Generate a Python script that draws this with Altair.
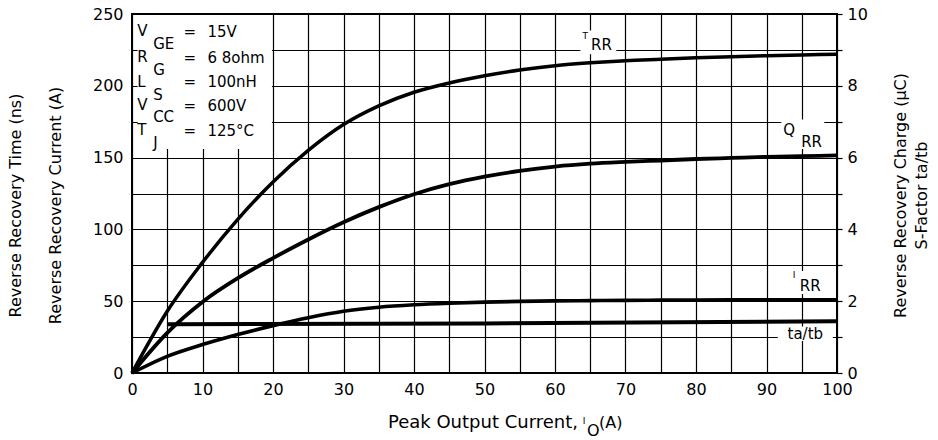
import altair as alt
import pandas as pd

# ---------------- data ----------------
current = [0, 5, 10, 15, 20, 25, 30, 35, 40, 45, 50, 55, 60, 65, 70, 75, 80, 85, 90, 95, 100]
t_rr = [0, 43, 77, 107, 133, 155, 173, 186, 195.5, 202, 207, 211, 214, 216, 217.5, 218.5, 219.5, 220.3, 221, 221.5, 222]
i_rr = [0, 11.6, 19.8, 26.8, 33, 38.5, 43, 45.8, 47.5, 48.6, 49.4, 49.9, 50.2, 50.4, 50.6, 50.7, 50.8, 50.9, 51, 51, 51]
q_rr = [0, 1.12, 1.98, 2.64, 3.2, 3.72, 4.2, 4.62, 4.98, 5.26, 5.47, 5.63, 5.75, 5.83, 5.88, 5.92, 5.96, 5.99, 6.02, 6.04, 6.06]
tatb_current = [5, 50, 100]
tatb = [1.36, 1.38, 1.44]

x_ticks = list(range(0, 101, 5))
left_ticks = list(range(0, 251, 25))
right_ticks = list(range(0, 11))

cond_sym = ["V", "R", "L", "V", "T"]
cond_sub = ["GE", "G", "S", "CC", "J"]
cond_val = ["15V", "6 8ohm", "100nH", "600V", "125°C"]

# ---------------- annotation placement (data units) ----------------
cond_sym_y = [238.2, 219.8, 202.4, 186.7, 169.3]
cond_sub_y = [229.2, 211.0, 193.7, 178.0, 160.3]
cond_val_y = [237.5, 219.4, 202.7, 186.0, 168.6]
cond_x = {"sym": 0.75, "sub": 3.0, "eq": 7.3, "val": 10.7}

boxes = pd.DataFrame({
    "x": [0.8, 63.6, 92.1, 93.5, 91.6],
    "x2": [19.85, 68.7, 98.2, 98.4, 99.4],
    "y": [156, 222, 156, 55, 22.3],
    "y2": [249.3, 238.5, 176.5, 71, 32.3],
})

curve_labels_big = pd.DataFrame({
    "x": [66.6, 93.2, 96.4, 96.2, 95.5],
    "y": [228.5, 169.3, 161.0, 60.8, 27.3],
    "t": ["RR", "Q", "RR", "RR", "ta/tb"],
})
curve_labels_small = pd.DataFrame({
    "x": [64.3, 93.9],
    "y": [234.7, 68.4],
    "t": ["T", "I"],
})

FONT = "DejaVu Sans"

# ---------------- tables ----------------
left_curves = pd.DataFrame({
    "x": current * 2,
    "y": t_rr + i_rr,
    "series": ["T_RR"] * len(current) + ["I_RR"] * len(current),
})
right_curves = pd.DataFrame({
    "x": current + tatb_current,
    "y": q_rr + tatb,
    "series": ["Q_RR"] * len(current) + ["ta/tb"] * len(tatb_current),
})

cond_rows = []
for s, sb, v, ys, yb, yv in zip(cond_sym, cond_sub, cond_val, cond_sym_y, cond_sub_y, cond_val_y):
    cond_rows.append({"x": cond_x["sym"], "y": ys, "t": s})
    cond_rows.append({"x": cond_x["sub"], "y": yb, "t": sb})
    cond_rows.append({"x": cond_x["eq"], "y": yv, "t": "="})
    cond_rows.append({"x": cond_x["val"], "y": yv, "t": v})
cond_df = pd.DataFrame(cond_rows)

# ---------------- encodings ----------------
X = alt.X(
    "x:Q",
    scale=alt.Scale(domain=[0, 100], nice=False),
    axis=alt.Axis(
        values=x_ticks,
        labelExpr="datum.value % 10 == 0 ? datum.label : ''",
        grid=True, gridColor="black", gridWidth=1.2, gridOpacity=1,
        ticks=False, domain=False, labelFontSize=16, labelPadding=8,
        labelFlush=False, labelOverlap=False, title=None,
    ),
)

YL = alt.Y(
    "y:Q",
    scale=alt.Scale(domain=[0, 250], nice=False),
    axis=alt.Axis(
        values=left_ticks,
        labelExpr="datum.value % 50 == 0 ? datum.label : ''",
        grid=True, gridColor="black", gridWidth=1.2, gridOpacity=1,
        ticks=False, domain=False, labelFontSize=16, labelPadding=9,
        labelFlush=False, labelOverlap=False,
        title=["Reverse Recovery Time (ns)", "Reverse Recovery Current (A)"],
        titleFontSize=16, titleFontWeight="normal", titleLineHeight=40,
        titleAngle=270, titleBaseline="bottom", titleAlign="center",
        titleX=-109, titleY=191,
    ),
)

YR = alt.Y(
    "y:Q",
    scale=alt.Scale(domain=[0, 10], nice=False),
    axis=alt.Axis(
        orient="right",
        values=right_ticks,
        labelExpr="datum.value % 2 == 0 ? datum.label : ''",
        grid=False, ticks=True, tickSize=5, tickColor="black", tickWidth=1.2,
        domain=False, labelFontSize=16, labelPadding=5,
        labelFlush=False, labelOverlap=False,
        title=["Reverse Recovery Charge (μC)", "S-Factor ta/tb"],
        titleFontSize=16, titleFontWeight="normal", titleLineHeight=21,
        titleAngle=270, titleBaseline="top", titleAlign="center",
        titleX=55, titleY=181,
    ),
)

# ---------------- left-scale layer ----------------
box_layer = alt.Chart(boxes).mark_rect(color="white", opacity=1).encode(
    x=X, x2="x2:Q", y=YL, y2="y2:Q"
)

left_lines = alt.Chart(left_curves).mark_line(color="black", interpolate="monotone").encode(
    x=X, y=YL, detail="series:N",
    strokeWidth=alt.StrokeWidth("series:N", scale=alt.Scale(domain=["T_RR", "I_RR"], range=[3.5, 4.0]), legend=None),
)

cond_text = alt.Chart(cond_df).mark_text(
    align="left", baseline="middle", font=FONT, fontSize=15, color="black"
).encode(x=X, y=YL, text="t:N")

lab_big = alt.Chart(curve_labels_big).mark_text(
    align="center", baseline="middle", font=FONT, fontSize=15, color="black"
).encode(x=X, y=YL, text="t:N")

lab_small = alt.Chart(curve_labels_small).mark_text(
    align="center", baseline="middle", font=FONT, fontSize=9, color="black"
).encode(x=X, y=YL, text="t:N")

left_layer = alt.layer(box_layer, left_lines, cond_text, lab_big, lab_small)

# ---------------- right-scale layer ----------------
right_lines = alt.Chart(right_curves).mark_line(color="black", interpolate="monotone").encode(
    x=X, y=YR, detail="series:N",
    strokeWidth=alt.StrokeWidth("series:N", scale=alt.Scale(domain=["Q_RR", "ta/tb"], range=[3.5, 3.8]), legend=None),
)
right_layer = alt.layer(right_lines)

# ---------------- x-axis title with subscript ----------------
xt_main = alt.Chart(pd.DataFrame({"t": ["Peak Output Current,"]})).mark_text(
    align="right", baseline="middle", font=FONT, fontSize=18, color="black"
).encode(x=alt.value(446), y=alt.value(408.5), text="t:N")
xt_i = alt.Chart(pd.DataFrame({"t": ["I"]})).mark_text(
    align="center", baseline="middle", font=FONT, fontSize=9, color="black"
).encode(x=alt.value(452), y=alt.value(406.5), text="t:N")
xt_o = alt.Chart(pd.DataFrame({"t": ["O"]})).mark_text(
    align="left", baseline="middle", font=FONT, fontSize=16, color="black"
).encode(x=alt.value(455), y=alt.value(417), text="t:N")
xt_a = alt.Chart(pd.DataFrame({"t": ["(A)"]})).mark_text(
    align="left", baseline="middle", font=FONT, fontSize=16, color="black"
).encode(x=alt.value(467), y=alt.value(408.5), text="t:N")

chart = (
    alt.layer(left_layer, right_layer, xt_main, xt_i, xt_o, xt_a)
    .resolve_scale(y="independent")
    .properties(
        width=705, height=359,
        padding={"left": 132, "top": 14, "right": 101, "bottom": 67},
        autosize=alt.AutoSizeParams(type="none"),
        background="white",
    )
    .configure_view(stroke="black", strokeWidth=2)
    .configure_axis(labelFont=FONT, titleFont=FONT, labelColor="black", titleColor="black")
)

chart.save("out.html", embed_options={"renderer": "svg", "actions": False})
